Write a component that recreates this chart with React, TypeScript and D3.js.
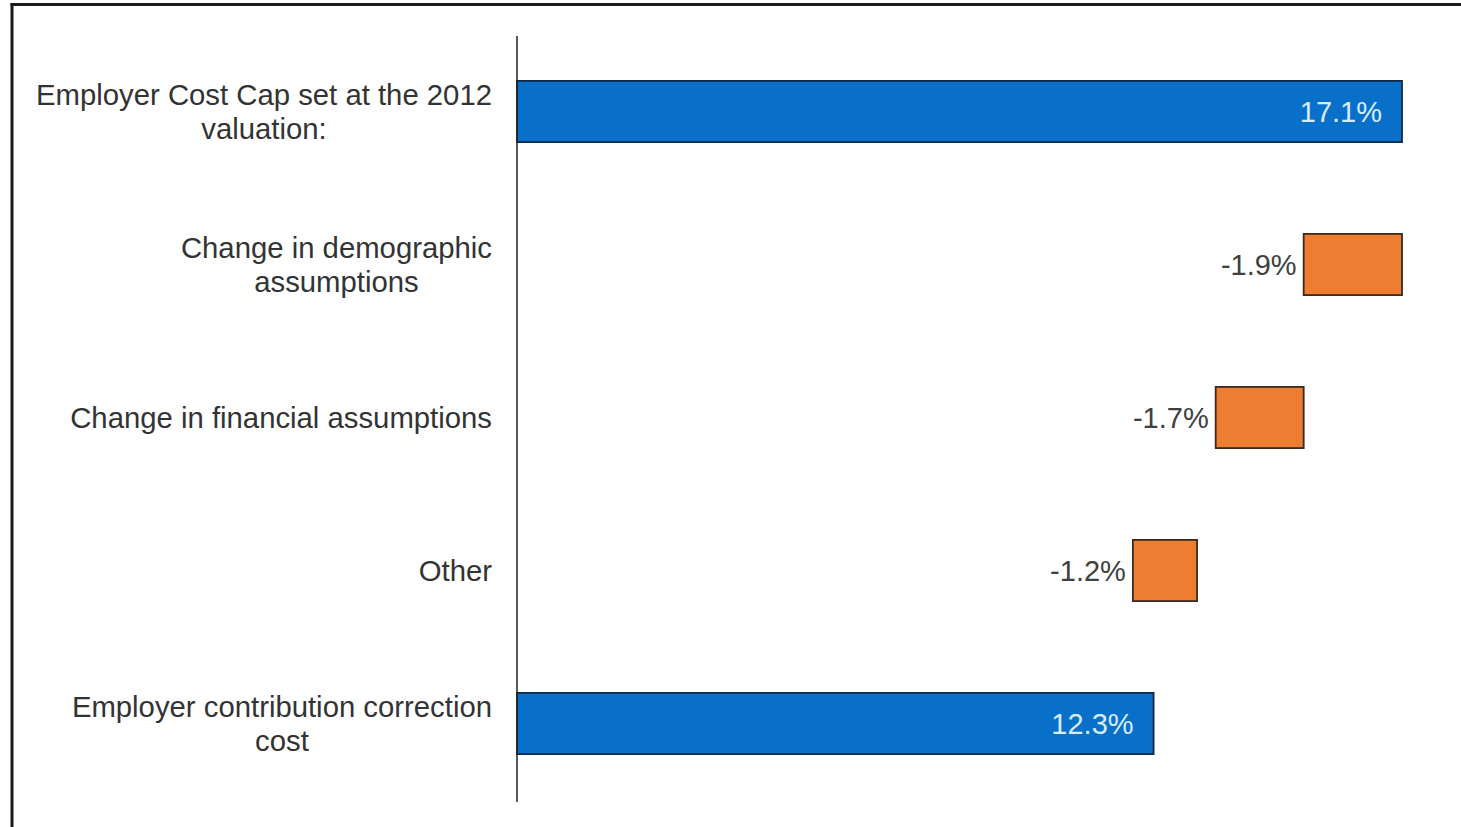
import React, { useEffect, useRef } from "react";
import * as d3 from "d3";

const categories: string[][] = [
  ["Employer Cost Cap set at the 2012", "valuation:"],
  ["Change in demographic", "assumptions"],
  ["Change in financial assumptions"],
  ["Other"],
  ["Employer contribution correction", "cost"],
];
const barStart: number[] = [0, 15.2, 13.5, 11.9, 0];
const barEnd: number[] = [17.1, 17.1, 15.2, 13.14, 12.3];
const valueLabels: string[] = ["17.1%", "-1.9%", "-1.7%", "-1.2%", "12.3%"];
const barKind: string[] = ["total", "change", "change", "change", "total"];

const W = 1461;
const H = 827;

export default function App() {
  const ref = useRef<SVGSVGElement | null>(null);

  useEffect(() => {
    const svg = d3.select(ref.current);
    svg.selectAll("*").remove();

    const x = d3.scaleLinear().domain([0, 17.1]).range([517, 1402]);
    const y = d3
      .scaleBand<number>()
      .domain(d3.range(categories.length))
      .range([35, 800])
      .paddingInner(0.6)
      .paddingOuter(0.3);

    // frame (top and left edges visible)
    svg
      .append("line")
      .attr("x1", 10.5)
      .attr("x2", W)
      .attr("y1", 4.5)
      .attr("y2", 4.5)
      .attr("stroke", "#1a1a1a")
      .attr("stroke-width", 3);
    svg
      .append("line")
      .attr("x1", 12)
      .attr("x2", 12)
      .attr("y1", 3)
      .attr("y2", H)
      .attr("stroke", "#1a1a1a")
      .attr("stroke-width", 3);

    const font = "'Liberation Sans', Arial, sans-serif";

    // bars
    const bars = svg.append("g");
    categories.forEach((_, i) => {
      const total = barKind[i] === "total";
      bars
        .append("rect")
        .attr("x", x(barStart[i]))
        .attr("y", y(i)!)
        .attr("width", x(barEnd[i]) - x(barStart[i]))
        .attr("height", y.bandwidth())
        .attr("fill", total ? "#0870C8" : "#ED7D31")
        .attr("stroke", total ? "#0d2a4a" : "#3a2a20")
        .attr("stroke-width", 1.8);
    });

    // axis line
    svg
      .append("line")
      .attr("x1", x(0))
      .attr("x2", x(0))
      .attr("y1", 36)
      .attr("y2", 802)
      .attr("stroke", "#222")
      .attr("stroke-width", 1.5);

    // value labels
    categories.forEach((_, i) => {
      const total = barKind[i] === "total";
      const cy = y(i)! + y.bandwidth() / 2;
      svg
        .append("text")
        .attr("x", total ? x(barEnd[i]) - 20 : x(barStart[i]) - 7)
        .attr("y", cy)
        .attr("dy", "0.36em")
        .attr("text-anchor", "end")
        .attr("font-family", font)
        .attr("font-size", 29)
        .attr("fill", total ? "#d6ecff" : "#404040")
        .text(valueLabels[i]);
    });

    // category labels (centered block, right edge at 492)
    const lineH = 33.5;
    categories.forEach((lines, i) => {
      const cy = y(i)! + y.bandwidth() / 2;
      const g = svg.append("g");
      const texts = lines.map((ln, k) =>
        g
          .append("text")
          .attr("y", cy + (k - (lines.length - 1) / 2) * lineH)
          .attr("dy", "0.36em")
          .attr("text-anchor", "middle")
          .attr("font-family", font)
          .attr("font-size", 29.3)
          .attr("fill", "#333")
          .text(ln)
      );
      const maxW = d3.max(texts, (t) => (t.node() as SVGTextElement).getComputedTextLength()) || 0;
      texts.forEach((t) => t.attr("x", 492 - maxW / 2));
    });
  }, []);

  return (
    <svg
      ref={ref}
      width={W}
      height={H}
      style={{ position: "absolute", left: 0, top: 0, background: "#fff", display: "block" }}
    />
  );
}
